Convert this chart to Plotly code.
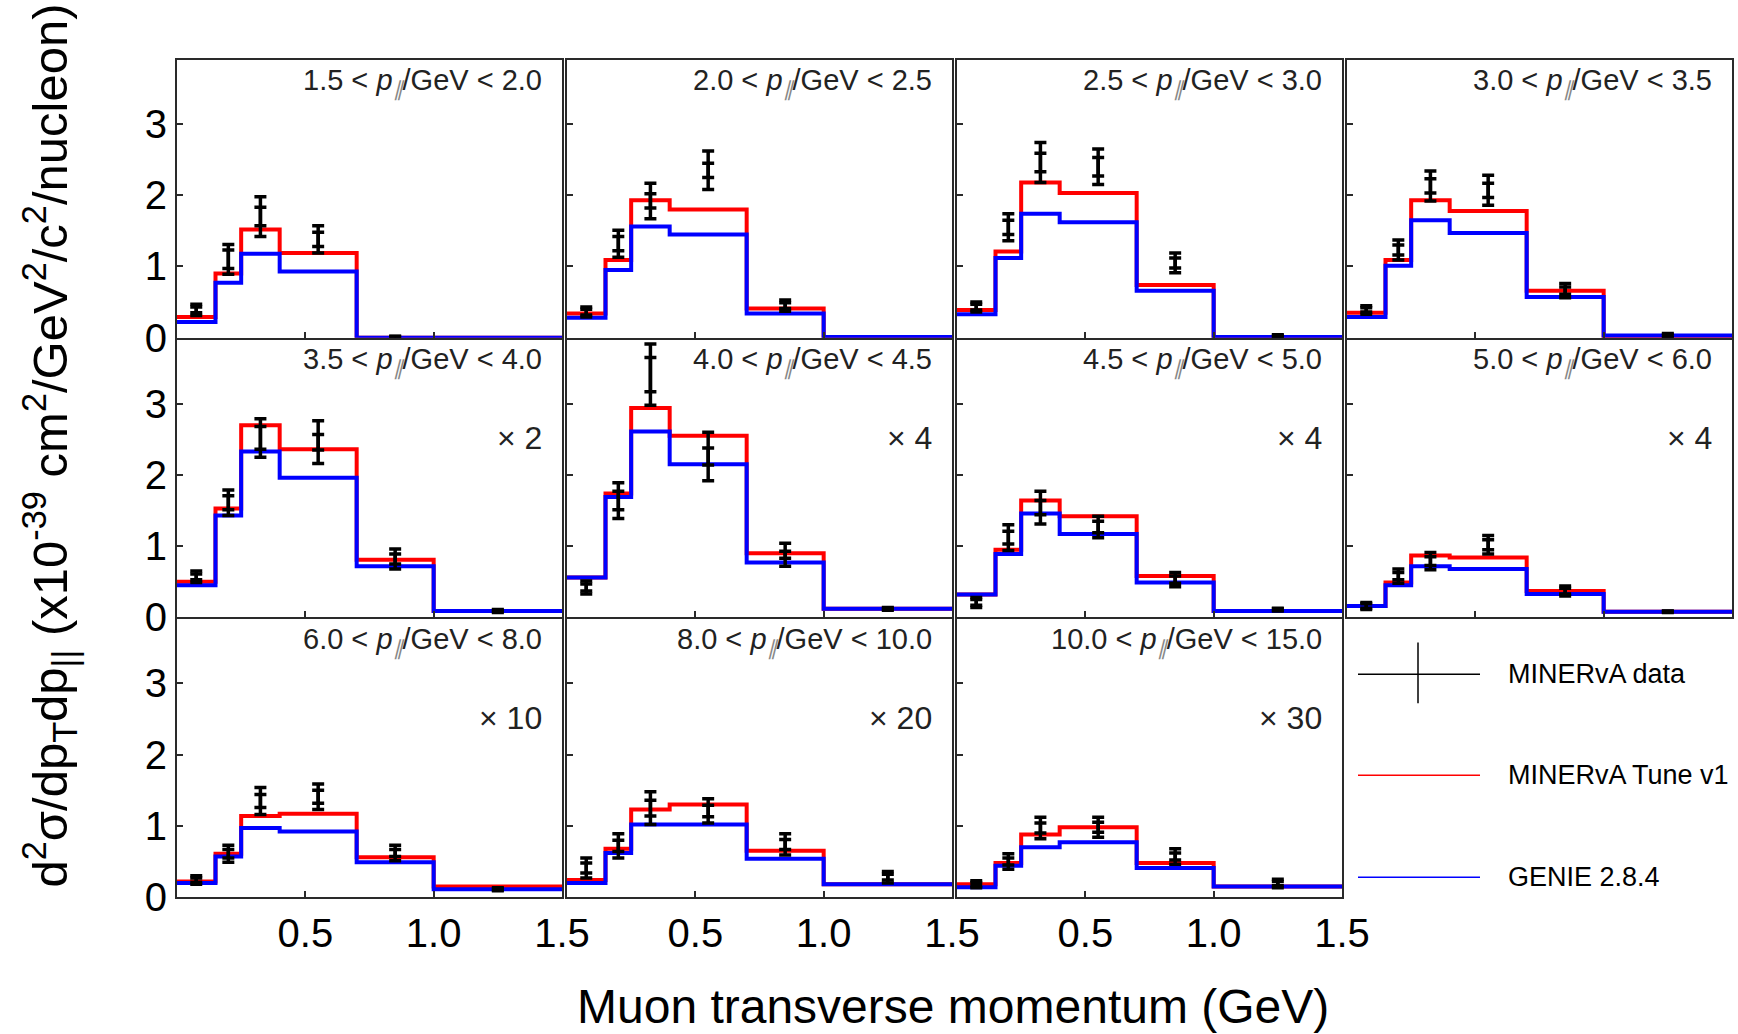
import plotly.graph_objects as go

# Muon pT bin edges (GeV) and bin centres used for the data points
pt_edges = [0.0, 0.15, 0.25, 0.4, 0.7, 1.0, 1.5]
pt_centers = [0.075, 0.2, 0.325, 0.55, 0.85, 1.25]

# p_parallel slice labels and the scale factor applied to each slice
slice_labels = [
    ("1.5", "2.0"), ("2.0", "2.5"), ("2.5", "3.0"), ("3.0", "3.5"),
    ("3.5", "4.0"), ("4.0", "4.5"), ("4.5", "5.0"), ("5.0", "6.0"),
    ("6.0", "8.0"), ("8.0", "10.0"), ("10.0", "15.0"),
]
scale_labels = ["", "", "", "", "× 2", "× 4", "× 4", "× 4", "× 10", "× 20", "× 30"]

# MINERvA Tune v1 prediction
tune_v1 = [
    [0.29, 0.90, 1.52, 1.19, 0.00, 0.00],
    [0.34, 1.09, 1.93, 1.80, 0.41, 0.00],
    [0.39, 1.21, 2.18, 2.03, 0.74, 0.00],
    [0.35, 1.09, 1.93, 1.78, 0.66, 0.02],
    [0.50, 1.53, 2.70, 2.36, 0.81, 0.09],
    [0.56, 1.74, 2.94, 2.55, 0.90, 0.12],
    [0.32, 0.95, 1.64, 1.42, 0.58, 0.09],
    [0.16, 0.49, 0.87, 0.84, 0.37, 0.08],
    [0.22, 0.61, 1.14, 1.17, 0.56, 0.15],
    [0.24, 0.68, 1.23, 1.30, 0.65, 0.18],
    [0.18, 0.48, 0.88, 0.98, 0.48, 0.15],
]

# GENIE 2.8.4 prediction
genie = [
    [0.22, 0.77, 1.18, 0.93, 0.00, 0.00],
    [0.28, 0.95, 1.56, 1.45, 0.34, 0.01],
    [0.33, 1.12, 1.74, 1.62, 0.66, 0.01],
    [0.29, 1.01, 1.65, 1.47, 0.57, 0.03],
    [0.45, 1.43, 2.33, 1.96, 0.72, 0.09],
    [0.56, 1.69, 2.61, 2.15, 0.77, 0.12],
    [0.32, 0.89, 1.46, 1.17, 0.49, 0.09],
    [0.16, 0.45, 0.72, 0.68, 0.33, 0.08],
    [0.20, 0.57, 0.97, 0.92, 0.49, 0.11],
    [0.20, 0.62, 1.02, 1.02, 0.54, 0.18],
    [0.14, 0.44, 0.70, 0.77, 0.41, 0.15],
]

# MINERvA data: central values, total and statistical uncertainties
data_vals = [
    [0.39, 1.10, 1.70, 1.38, 0.01, None],
    [0.36, 1.32, 1.92, 2.35, 0.45, None],
    [0.43, 1.55, 2.46, 2.40, 1.05, 0.02],
    [0.39, 1.23, 2.13, 2.07, 0.66, 0.03],
    [0.57, 1.61, 2.52, 2.46, 0.82, 0.09],
    [0.42, 1.64, 3.41, 2.26, 0.88, 0.12],
    [0.21, 1.12, 1.54, 1.27, 0.53, 0.11],
    [0.16, 0.58, 0.79, 1.02, 0.37, 0.08],
    [0.24, 0.61, 1.35, 1.41, 0.62, 0.11],
    [0.41, 0.72, 1.25, 1.21, 0.74, 0.28],
    [0.18, 0.50, 0.97, 0.98, 0.57, 0.19],
]
data_tot_err = [
    [0.08, 0.21, 0.28, 0.19, 0.01, 0.0],
    [0.07, 0.19, 0.25, 0.27, 0.08, 0.0],
    [0.07, 0.19, 0.28, 0.25, 0.14, 0.02],
    [0.06, 0.14, 0.21, 0.21, 0.10, 0.03],
    [0.08, 0.18, 0.27, 0.30, 0.14, 0.02],
    [0.09, 0.25, 0.43, 0.34, 0.16, 0.02],
    [0.07, 0.18, 0.23, 0.15, 0.10, 0.02],
    [0.05, 0.10, 0.12, 0.13, 0.07, 0.01],
    [0.06, 0.12, 0.19, 0.18, 0.11, 0.02],
    [0.14, 0.17, 0.23, 0.17, 0.15, 0.08],
    [0.05, 0.11, 0.15, 0.14, 0.11, 0.06],
]
data_stat_err = [
    [0.04, 0.13, 0.13, 0.10, 0.005, 0.0],
    [0.04, 0.10, 0.10, 0.10, 0.04, 0.0],
    [0.04, 0.10, 0.13, 0.13, 0.07, 0.01],
    [0.03, 0.07, 0.10, 0.10, 0.05, 0.015],
    [0.04, 0.10, 0.16, 0.11, 0.07, 0.01],
    [0.05, 0.13, 0.24, 0.12, 0.05, 0.01],
    [0.04, 0.09, 0.10, 0.08, 0.05, 0.01],
    [0.03, 0.05, 0.06, 0.07, 0.04, 0.005],
    [0.03, 0.06, 0.09, 0.09, 0.05, 0.01],
    [0.07, 0.08, 0.11, 0.08, 0.07, 0.04],
    [0.025, 0.05, 0.07, 0.07, 0.05, 0.03],
]

# Layout is planned on a 1738x1034 grid and expressed as paper fractions
GRID_W, GRID_H = 1738, 1034
W, H = 1766, 1055
FONT = "Liberation Sans, Arial, Helvetica, sans-serif"
RED = "#ff0000"
BLUE = "#0000ff"
FRAME = "#2a2a2a"


def px_x(px):
    return min(max(px / GRID_W, 0.0), 1.0)


def px_y(py):
    return min(max(1 - py / GRID_H, 0.0), 1.0)


PANEL_W, PANEL_H = 385, 278
COL_X0 = [177, 567, 957, 1347]
ROW_Y0 = [60, 340, 620]


def step_y(vals):
    return list(vals) + [vals[-1]]


fig = go.Figure()
annotations = []

for i in range(len(slice_labels)):
    row, col = divmod(i, 4)
    xa = "x" if i == 0 else f"x{i + 1}"
    ya = "y" if i == 0 else f"y{i + 1}"

    fig.add_trace(go.Scatter(
        x=pt_edges, y=step_y(tune_v1[i]), mode="lines", line_shape="hv",
        line=dict(color=RED, width=4), xaxis=xa, yaxis=ya,
        showlegend=False, hoverinfo="skip"))
    fig.add_trace(go.Scatter(
        x=pt_edges, y=step_y(genie[i]), mode="lines", line_shape="hv",
        line=dict(color=BLUE, width=4), xaxis=xa, yaxis=ya,
        showlegend=False, hoverinfo="skip"))
    # total uncertainty
    fig.add_trace(go.Scatter(
        x=pt_centers, y=data_vals[i], mode="markers",
        marker=dict(color="black", size=1),
        error_y=dict(type="data", array=data_tot_err[i], color="black",
                     thickness=3.5, width=6),
        xaxis=xa, yaxis=ya, showlegend=False))
    # statistical uncertainty
    fig.add_trace(go.Scatter(
        x=pt_centers, y=data_vals[i], mode="markers",
        marker=dict(color="black", size=1),
        error_y=dict(type="data", array=data_stat_err[i], color="black",
                     thickness=3.5, width=6),
        xaxis=xa, yaxis=ya, showlegend=False))

    x0 = COL_X0[col]
    y0 = ROW_Y0[row]
    xdom = [px_x(x0), px_x(x0 + PANEL_W)]
    ydom = [px_y(y0 + PANEL_H), px_y(y0)]

    common = dict(showline=True, mirror=True, linecolor=FRAME, linewidth=2,
                  ticks="inside", ticklen=6, tickwidth=1.5, tickcolor=FRAME,
                  showgrid=False, zeroline=False,
                  tickfont=dict(family=FONT, size=40, color="black"))
    xkey = "xaxis" if i == 0 else f"xaxis{i + 1}"
    ykey = "yaxis" if i == 0 else f"yaxis{i + 1}"
    fig.layout[xkey] = dict(
        common, domain=xdom, anchor=ya, range=[0, 1.5],
        tickvals=[0.5, 1.0, 1.5], ticktext=["0.5", "1.0", "1.5"],
        showticklabels=(row == 2))
    fig.layout[ykey] = dict(
        common, domain=ydom, anchor=xa, range=[0, 3.9],
        tickvals=[0, 1, 2, 3], ticktext=["0", "1", "2", "3"],
        showticklabels=(col == 0))

    lo, hi = slice_labels[i]
    annotations.append(dict(
        xref=f"{xa} domain", yref=f"{ya} domain", x=0.952, y=0.92,
        xanchor="right", yanchor="middle", showarrow=False,
        text=(f"{lo} &lt; <i>p</i><sub><span style='color:#888888'><i>∥</i></span></sub>"
              f"/GeV &lt; {hi}"),
        font=dict(family=FONT, size=29, color="#222222")))
    if scale_labels[i]:
        annotations.append(dict(
            xref=f"{xa} domain", yref=f"{ya} domain", x=0.952, y=0.645,
            xanchor="right", yanchor="middle", showarrow=False,
            text=scale_labels[i],
            font=dict(family=FONT, size=32, color="#222222")))

# Axis titles
annotations.append(dict(
    xref="paper", yref="paper", x=px_x(50), y=px_y(446),
    xanchor="center", yanchor="middle", showarrow=False, textangle=-90,
    text=("d<sup>2</sup>σ/dp<sub>T</sub>dp<sub>||</sub> (x10<sup>-39</sup> "
          "cm<sup>2</sup>/GeV<sup>2</sup>/c<sup>2</sup>/nucleon)"),
    font=dict(family=FONT, size=49, color="black")))
annotations.append(dict(
    xref="paper", yref="paper", x=px_x(953), y=px_y(1007),
    xanchor="center", yanchor="middle", showarrow=False,
    text="Muon transverse momentum (GeV)",
    font=dict(family=FONT, size=48, color="black")))

# Legend in the empty lower-right cell
legend_items = [("MINERvA data", "black", 675), ("MINERvA Tune v1", RED, 776),
                ("GENIE 2.8.4", BLUE, 878)]
shapes = []
for label, color, ypx in legend_items:
    shapes.append(dict(type="line", xref="paper", yref="paper",
                       x0=px_x(1358), x1=px_x(1480), y0=px_y(ypx), y1=px_y(ypx),
                       line=dict(color=color, width=1.5)))
    annotations.append(dict(
        xref="paper", yref="paper", x=px_x(1506), y=px_y(ypx),
        xanchor="left", yanchor="middle", showarrow=False, text=label,
        font=dict(family=FONT, size=27, color="black")))
shapes.append(dict(type="line", xref="paper", yref="paper",
                   x0=px_x(1418), x1=px_x(1418), y0=px_y(643), y1=px_y(704),
                   line=dict(color="black", width=1.5)))

fig.update_layout(
    width=W, height=H, margin=dict(l=0, r=0, t=0, b=0),
    paper_bgcolor="white", plot_bgcolor="white",
    annotations=annotations, shapes=shapes, showlegend=False,
    font=dict(family=FONT),
)

fig.write_html("out.html")
